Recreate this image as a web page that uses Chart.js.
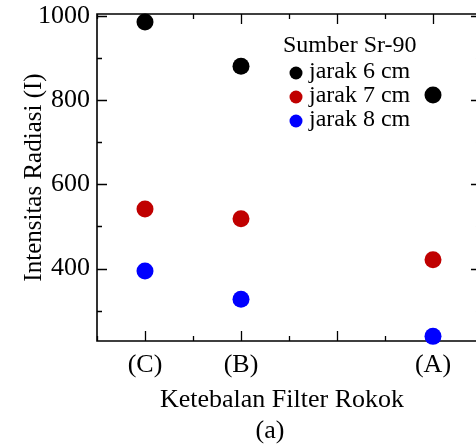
<!DOCTYPE html>
<html><head><meta charset="utf-8">
<script src="https://cdn.jsdelivr.net/npm/chart.js@4.4.0/dist/chart.umd.min.js"></script>
<style>
html,body{margin:0;padding:0;overflow:hidden;background:#fff;}
#wrap{width:476px;height:446px;overflow:hidden;position:relative;background:#fff;}
canvas{display:block;}
</style></head><body>
<div id="wrap"><canvas id="c" width="476" height="446"></canvas></div>
<script>
const categories = ['(C)', '(B)', '(A)'];
const categoryPositions = [1, 2, 4];
const seriesLabels = ['jarak 6 cm', 'jarak 7 cm', 'jarak 8 cm'];
const jarak6 = [985, 880, 812];
const jarak7 = [541, 518, 421];
const jarak8 = [394, 327, 239];
const yTickValues = [400, 600, 800, 1000];
const legendTitle = 'Sumber Sr-90';
const xTitle = 'Ketebalan Filter Rokok';
const panelLabel = '(a)';
const yTitle = 'Intensitas Radiasi (I)';

const FAMILY = "'Liberation Serif', 'Times New Roman', Times, serif";
const colors = ['#000000', '#c00000', '#0000ff'];
const seriesValues = [jarak6, jarak7, jarak8];
const X_MIN = 0.5, X_FRAME_MAX = 4.5, X_VISIBLE_MAX = 4.448;

const datasets = seriesValues.map((vals, i) => ({
  label: seriesLabels[i],
  data: vals.map((v, j) => ({x: categoryPositions[j], y: v})),
  backgroundColor: colors[i],
  borderWidth: 0,
  pointRadius: 8.5,
  pointHoverRadius: 8.5,
  clip: false
}));

const framePlugin = {
  id: 'frame',
  beforeDatasetsDraw(chart) {
    const {ctx, chartArea: a, scales: {x, y}} = chart;
    const right = x.getPixelForValue(X_FRAME_MAX);
    ctx.save();
    ctx.strokeStyle = '#000';
    ctx.lineWidth = 1.6;
    ctx.beginPath();
    ctx.rect(a.left, a.top, right - a.left, a.bottom - a.top);
    ctx.stroke();
    ctx.lineWidth = 1.3;
    ctx.beginPath();
    for (let v = X_MIN; v <= X_FRAME_MAX + 1e-9; v += 0.5) {
      const px = Math.round(x.getPixelForValue(v)) + 0.5;
      const len = Math.abs(v - Math.round(v)) < 1e-9 ? 10 : 5;
      ctx.moveTo(px, a.bottom); ctx.lineTo(px, a.bottom - len);
      ctx.moveTo(px, a.top); ctx.lineTo(px, a.top + len);
    }
    for (let v = 300; v <= y.max + 1e-9; v += 100) {
      const py = Math.round(y.getPixelForValue(v)) + 0.5;
      const len = v % 200 === 0 ? 10 : 5;
      ctx.moveTo(a.left, py); ctx.lineTo(a.left + len, py);
      ctx.moveTo(right, py); ctx.lineTo(right - len, py);
    }
    ctx.stroke();
    ctx.restore();
  },
  afterDraw(chart) {
    const {ctx} = chart;
    ctx.save();
    ctx.fillStyle = '#000';
    ctx.textBaseline = 'alphabetic';
    ctx.font = '26px ' + FAMILY;
    ctx.textAlign = 'center';
    ctx.fillText(xTitle, 282, 407);
    ctx.fillText(panelLabel, 270, 438);
    ctx.font = '24px ' + FAMILY;
    ctx.textAlign = 'left';
    ctx.fillText(legendTitle, 283, 52);
    chart.data.datasets.forEach((ds, i) => {
      const cy = 73 + i * 24;
      ctx.beginPath();
      ctx.arc(296, cy, 6.5, 0, Math.PI * 2);
      ctx.fillStyle = ds.backgroundColor;
      ctx.fill();
      ctx.fillStyle = '#000';
      ctx.fillText(ds.label, 309, cy + 5);
    });
    ctx.restore();
  }
};

new Chart(document.getElementById('c'), {
  type: 'scatter',
  data: {datasets},
  options: {
    responsive: false,
    animation: false,
    events: [],
    layout: {autoPadding: false, padding: {top: 14, right: 0, bottom: 0, left: 0}},
    plugins: {legend: {display: false}, tooltip: {enabled: false}},
    scales: {
      x: {
        type: 'linear', min: X_MIN, max: X_VISIBLE_MAX,
        afterBuildTicks: s => { s.ticks = categoryPositions.map(v => ({value: v})); },
        ticks: {
          autoSkip: false, maxRotation: 0, minRotation: 0,
          callback: v => { const i = categoryPositions.indexOf(v); return i >= 0 ? categories[i] : ''; },
          font: {family: FAMILY, size: 26, lineHeight: 1.2}, color: '#000', padding: 9
        },
        grid: {display: false, drawTicks: false},
        border: {display: false},
        title: {display: false},
        afterFit: s => { s.height = 105; s.paddingLeft = 0; s.paddingRight = 0; }
      },
      y: {
        type: 'linear', min: 228, max: 1004,
        afterBuildTicks: s => { s.ticks = yTickValues.map(v => ({value: v})); },
        ticks: {
          callback: v => String(v),
          font: {family: FAMILY, size: 26, lineHeight: 1}, color: '#000', padding: 7
        },
        grid: {display: false, drawTicks: false},
        border: {display: false},
        title: {display: true, text: yTitle, color: '#000',
          font: {family: FAMILY, size: 25, lineHeight: 1.2}, padding: {top: 19, bottom: 0}},
        afterFit: s => { s.width = 97; s.paddingTop = 0; s.paddingBottom = 0; }
      }
    }
  },
  plugins: [framePlugin]
});
</script>
</body></html>
